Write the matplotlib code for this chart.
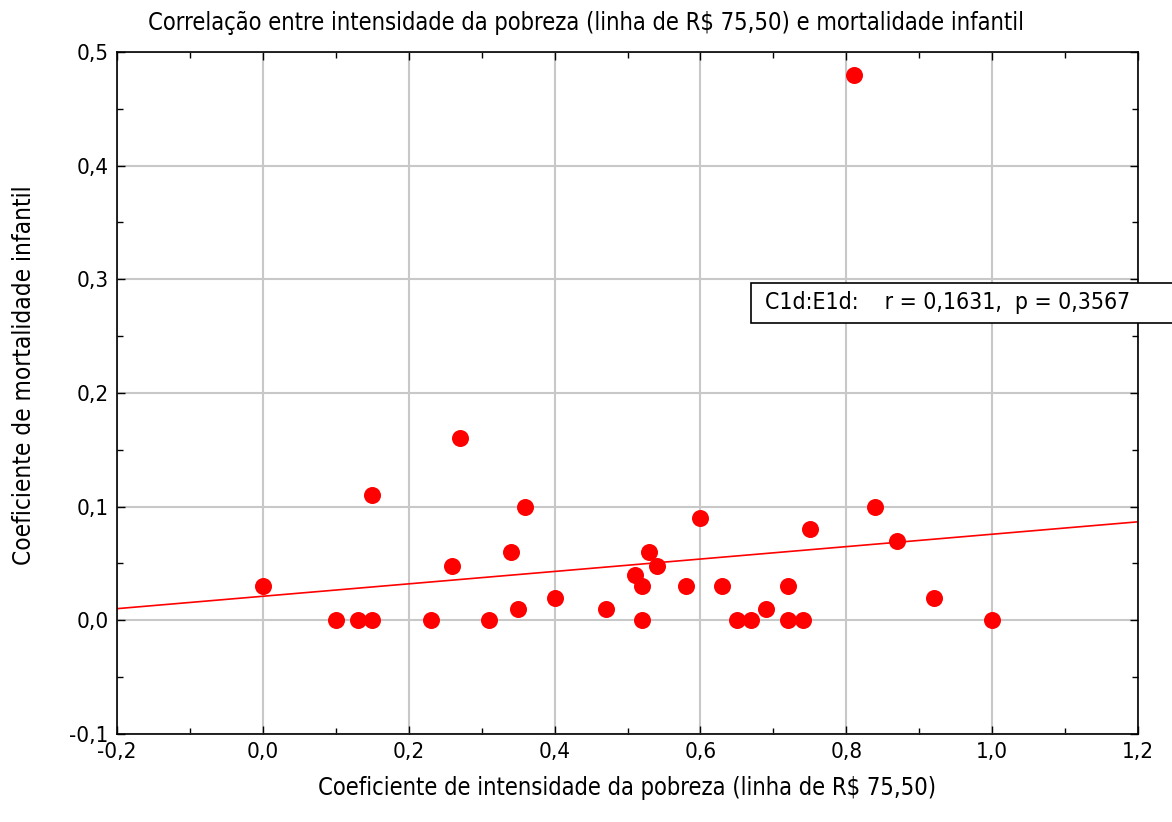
import numpy as np
import matplotlib.pyplot as plt
from matplotlib.ticker import MultipleLocator, FuncFormatter
from matplotlib.patches import Rectangle

# intensidade da pobreza (x) e mortalidade infantil (y)
intensidade = [0.00, 0.10, 0.13, 0.15, 0.15, 0.23, 0.26, 0.27, 0.31, 0.34,
               0.35, 0.36, 0.40, 0.47, 0.51, 0.52, 0.52, 0.53, 0.54, 0.58,
               0.60, 0.63, 0.65, 0.67, 0.69, 0.72, 0.72, 0.74, 0.75, 0.81,
               0.84, 0.87, 0.92, 1.00]
mortalidade = [0.03, 0.00, 0.00, 0.00, 0.11, 0.00, 0.048, 0.16, 0.00, 0.06,
               0.01, 0.10, 0.02, 0.01, 0.04, 0.03, 0.00, 0.06, 0.048, 0.03,
               0.09, 0.03, 0.00, 0.00, 0.01, 0.03, 0.00, 0.00, 0.08, 0.48,
               0.10, 0.07, 0.02, 0.00]

plt.rcParams['font.family'] = ['DejaVu Sans']
plt.rcParams['font.stretch'] = 'condensed'

W, H = 1172, 822
fig = plt.figure(figsize=(W / 100, H / 100), dpi=100)
ax = fig.add_axes([117 / W, 1 - 734 / H, (1138 - 117) / W, (734 - 52) / H])

ax.set_xlim(-0.2, 1.2)
ax.set_ylim(-0.1, 0.5)
ax.xaxis.set_major_locator(MultipleLocator(0.2))
ax.xaxis.set_minor_locator(MultipleLocator(0.1))
ax.yaxis.set_major_locator(MultipleLocator(0.1))
ax.yaxis.set_minor_locator(MultipleLocator(0.05))
fmt = FuncFormatter(lambda v, p: f'{v:.1f}'.replace('.', ',').replace('-0,0', '0,0'))
ax.xaxis.set_major_formatter(fmt)
ax.yaxis.set_major_formatter(fmt)
ax.tick_params(which='both', direction='in', top=True, right=True, labelsize=16, width=1)
ax.tick_params(which='major', length=6, pad=6)
ax.tick_params(which='minor', length=4)
ax.grid(True, which='major', color='#c8c8c8', linewidth=1.5)
ax.set_axisbelow(True)
for s in ax.spines.values():
    s.set_linewidth(1.2)

# linha de regressao
coef = np.polyfit(intensidade, mortalidade, 1)
xx = np.array([-0.2, 1.2])
ax.plot(xx, np.polyval(coef, xx), color='red', linewidth=1.2, zorder=2)

ax.scatter(intensidade, mortalidade, s=150, color='red', marker='o', zorder=3, linewidths=0)

fig.text(0.5, 1 - 23 / H, 'Correlação entre intensidade da pobreza (linha de R$ 75,50) e mortalidade infantil',
         fontsize=17, ha='center', va='center')
ax.set_xlabel('Coeficiente de intensidade da pobreza (linha de R$ 75,50)', fontsize=17, labelpad=10)
ax.set_ylabel('Coeficiente de mortalidade infantil', fontsize=17.5)
ax.yaxis.set_label_coords(-0.079, 0.526)

# caixa do coeficiente (cortada pela borda direita)
fig.patches.append(Rectangle((751 / W, 1 - 323 / H), 440 / W, 40 / H, transform=fig.transFigure,
                             facecolor='white', edgecolor='black', linewidth=1.2, zorder=5))
fig.text(765 / W, 1 - 303 / H, 'C1d:E1d:    r = 0,1631,  p = 0,3567', fontsize=16.5,
         va='center', ha='left', zorder=6)

fig.savefig('out.png', dpi=100)
